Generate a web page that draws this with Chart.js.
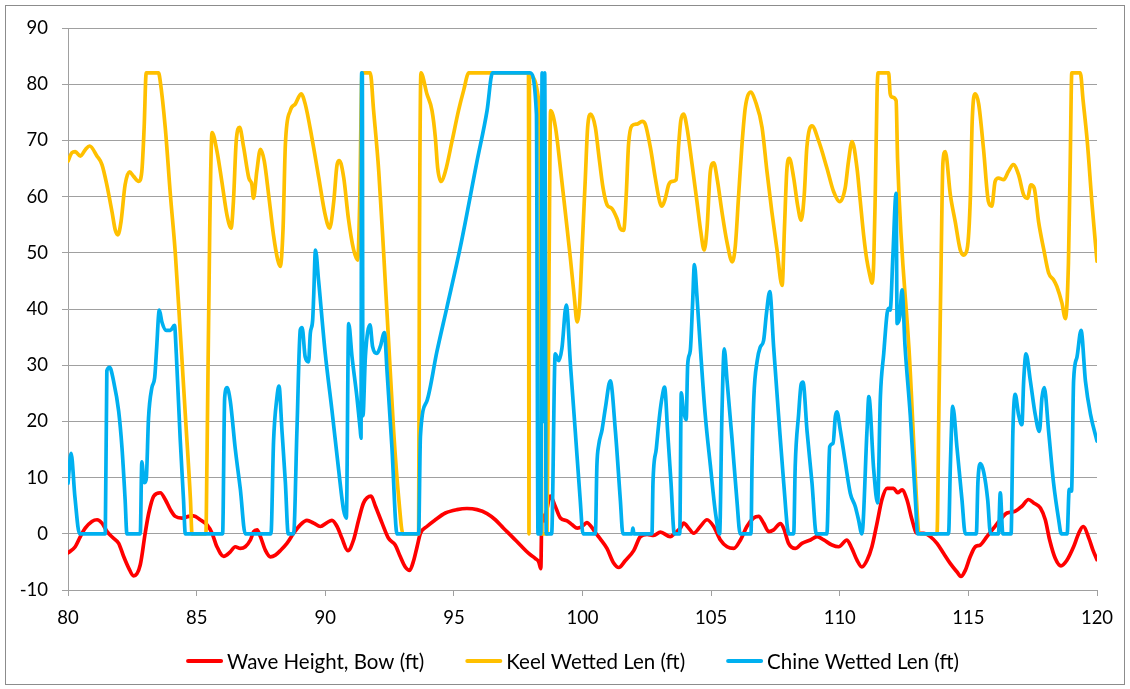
<!DOCTYPE html>
<html>
<head>
<meta charset="utf-8">
<script src="https://cdn.jsdelivr.net/npm/chart.js@4.4.1/dist/chart.umd.min.js"></script>
<style>
  html, body { margin: 0; padding: 0; background: #fff; }
  #wrap { position: relative; width: 1130px; height: 689px; }
  canvas { display: block; }
</style>
</head>
<body>
<div id="wrap"><canvas id="chart" width="1130" height="689"></canvas></div>
<script>
// Axis tick values
const xTicks = [80, 85, 90, 95, 100, 105, 110, 115, 120];
const yTicks = [-10, 0, 10, 20, 30, 40, 50, 60, 70, 80, 90];

// Wave height at the bow (ft) against time
const waveX = [80.00, 80.28, 80.48, 80.67, 80.93, 81.13, 81.32, 81.52, 81.77, 81.97, 82.16, 82.36, 82.55, 82.81, 83.00, 83.14, 83.33, 83.59, 83.78, 83.98, 84.17, 84.43, 84.69, 84.88, 85.14, 85.40, 85.60, 85.79, 86.05, 86.31, 86.50, 86.70, 86.89, 87.09, 87.22, 87.35, 87.48, 87.67, 87.87, 88.06, 88.25, 88.51, 88.77, 89.03, 89.29, 89.55, 89.81, 90.07, 90.26, 90.46, 90.65, 90.88, 91.10, 91.30, 91.49, 91.78, 91.95, 92.21, 92.46, 92.72, 92.92, 93.11, 93.28, 93.44, 93.57, 93.70, 93.95, 94.28, 94.67, 95.12, 95.51, 95.90, 96.29, 96.61, 96.93, 97.26, 97.58, 97.91, 98.17, 98.30, 98.38, 98.42, 98.52, 98.60, 98.75, 98.94, 99.14, 99.40, 99.60, 99.80, 99.98, 100.17, 100.35, 100.52, 100.69, 100.95, 101.21, 101.41, 101.66, 101.99, 102.25, 102.51, 102.77, 103.03, 103.41, 103.61, 103.80, 103.93, 104.13, 104.32, 104.58, 104.84, 105.10, 105.36, 105.62, 105.88, 106.14, 106.39, 106.65, 106.85, 107.04, 107.24, 107.43, 107.69, 107.82, 108.01, 108.27, 108.53, 108.86, 109.12, 109.38, 109.70, 109.96, 110.28, 110.47, 110.67, 110.86, 111.06, 111.25, 111.45, 111.64, 111.84, 112.09, 112.25, 112.42, 112.61, 112.81, 113.00, 113.26, 113.52, 113.78, 114.04, 114.30, 114.56, 114.71, 114.88, 115.07, 115.27, 115.46, 115.72, 115.98, 116.24, 116.50, 116.82, 117.08, 117.34, 117.54, 117.80, 117.99, 118.16, 118.38, 118.60, 118.83, 119.09, 119.29, 119.46, 119.70, 119.85, 120.00];
const waveY = [-3.4, -2.3, -0.5, 1.0, 2.2, 2.5, 1.9, 0.4, -0.8, -1.7, -4.0, -6.1, -7.5, -5.5, 0.1, 3.7, 6.7, 7.3, 6.1, 4.3, 3.1, 2.8, 3.1, 3.2, 2.5, 1.6, 0.1, -2.3, -4.0, -3.2, -2.3, -2.6, -2.3, -1.1, 0.4, 0.7, -0.5, -2.9, -4.1, -3.8, -3.0, -1.7, 0.1, 1.6, 2.4, 1.9, 1.3, 2.0, 2.4, 1.3, -0.8, -3.0, -1.1, 2.5, 5.5, 6.7, 4.9, 1.9, -0.8, -2.0, -4.1, -5.9, -6.5, -4.7, -2.3, 0.1, 1.3, 2.5, 3.7, 4.3, 4.5, 4.3, 3.6, 2.5, 1.0, -0.5, -2.0, -3.5, -4.4, -5.0, -6.2, 3.5, 2.3, 4.0, 6.7, 4.9, 2.8, 2.3, 1.6, 1.0, 1.3, 2.0, 1.2, 0.1, -0.9, -2.6, -5.2, -6.0, -4.8, -3.0, -0.5, -0.1, -0.3, 0.3, -0.5, 0.2, 1.0, 1.9, 1.0, 0.1, 1.3, 2.5, 1.3, -1.1, -2.3, -2.6, -1.1, 1.3, 2.8, 3.1, 1.9, 0.4, 0.7, 1.8, 1.0, -1.7, -2.6, -1.7, -1.1, -0.5, -1.1, -2.0, -2.3, -1.1, -2.6, -4.7, -5.9, -4.7, -2.3, 1.9, 6.1, 8.1, 8.1, 7.3, 7.8, 6.1, 2.5, 0.1, 0.1, -0.5, -1.7, -3.5, -5.3, -6.8, -7.6, -6.5, -4.1, -2.3, -2.0, -0.5, 1.0, 2.5, 3.7, 4.0, 4.9, 6.1, 5.5, 4.6, 2.5, -1.1, -4.4, -5.7, -4.7, -2.3, 0.1, 1.3, -1.0, -3.0, -4.6];

// Keel wetted length (ft)
const keelX = [80.00, 80.15, 80.28, 80.48, 80.68, 80.84, 81.13, 81.32, 81.51, 81.71, 81.84, 81.94, 82.06, 82.22, 82.39, 82.55, 82.75, 82.87, 82.96, 83.04, 83.52, 83.58, 83.78, 83.98, 84.17, 84.36, 84.56, 84.76, 84.82, 85.36, 85.40, 85.51, 85.60, 85.79, 85.98, 86.18, 86.34, 86.43, 86.54, 86.67, 86.83, 87.03, 87.15, 87.21, 87.34, 87.48, 87.63, 87.80, 87.99, 88.15, 88.25, 88.36, 88.45, 88.64, 88.84, 89.06, 89.22, 89.48, 89.75, 90.00, 90.17, 90.33, 90.46, 90.55, 90.72, 90.90, 91.10, 91.26, 91.34, 91.43, 91.75, 91.88, 92.08, 92.27, 92.46, 92.66, 92.86, 93.02, 93.63, 93.66, 93.72, 93.95, 94.15, 94.28, 94.37, 94.50, 94.67, 94.93, 95.18, 95.38, 95.58, 97.90, 97.92, 97.94, 98.34, 98.38, 98.42, 98.62, 98.70, 98.76, 98.95, 99.14, 99.33, 99.52, 99.68, 99.79, 99.89, 99.99, 100.11, 100.20, 100.32, 100.50, 100.63, 100.80, 100.96, 101.14, 101.34, 101.47, 101.60, 101.70, 101.79, 101.92, 102.12, 102.32, 102.44, 102.64, 102.83, 103.00, 103.09, 103.22, 103.35, 103.48, 103.64, 103.74, 103.82, 103.93, 104.06, 104.26, 104.45, 104.60, 104.73, 104.84, 104.97, 105.10, 105.25, 105.42, 105.62, 105.82, 105.94, 106.07, 106.20, 106.33, 106.55, 106.71, 106.98, 107.17, 107.36, 107.56, 107.76, 107.85, 107.94, 108.04, 108.21, 108.36, 108.50, 108.62, 108.72, 108.92, 109.18, 109.50, 109.76, 110.00, 110.21, 110.34, 110.48, 110.67, 110.80, 110.93, 111.05, 111.18, 111.25, 111.32, 111.38, 111.45, 111.49, 111.90, 111.96, 112.03, 112.19, 112.25, 112.69, 113.14, 113.78, 113.86, 113.94, 114.01, 114.10, 114.30, 114.49, 114.68, 114.81, 114.95, 115.08, 115.14, 115.21, 115.27, 115.40, 115.59, 115.78, 115.91, 116.04, 116.17, 116.37, 116.56, 116.75, 116.95, 117.15, 117.30, 117.43, 117.56, 117.73, 117.93, 118.12, 118.31, 118.44, 118.64, 118.77, 118.89, 118.96, 119.02, 119.35, 119.46, 119.62, 119.81, 120.00];
const keelY = [66.3, 67.8, 68.0, 67.2, 68.4, 69.0, 67.2, 65.7, 62.1, 57.3, 54.0, 53.2, 55.5, 62.1, 64.4, 63.6, 62.7, 64.5, 72.3, 82, 82, 80.7, 72.3, 60.3, 50.0, 36.2, 21.2, 6.1, 0, 0, 12.2, 54.3, 71.4, 68.1, 62.7, 56.7, 54.4, 59.1, 69.9, 72.3, 68.7, 63.3, 62.1, 59.7, 64.5, 68.4, 66.3, 60.3, 53.1, 48.8, 47.6, 54.3, 69.3, 75.3, 76.5, 78.3, 76.5, 70.5, 63.3, 56.7, 54.4, 59.1, 65.7, 66.4, 63.3, 56.1, 50.6, 48.7, 59.1, 82, 82, 75.3, 64.5, 50, 34.4, 18.2, 6.1, 0, 0, 48.2, 82, 78.3, 75.3, 70.5, 65.1, 62.7, 64.5, 69.9, 75.3, 78.9, 82, 82, 0, 81.5, 75.3, 45, 0, 0, 47, 75.3, 72.3, 65.1, 57.3, 49.4, 42.2, 37.7, 41.0, 51.2, 63.3, 72.3, 74.7, 72.3, 67.5, 61.5, 58.5, 57.9, 56.1, 54.3, 54.0, 60.3, 69.3, 72.6, 72.9, 73.4, 72.9, 68.7, 63.3, 59.1, 58.3, 59.7, 62.1, 62.7, 63.0, 69.3, 73.5, 74.7, 72.3, 65.7, 59.1, 53.7, 50.5, 54.3, 64.5, 66.0, 62.7, 57.3, 51.8, 48.4, 51.2, 60.3, 69.3, 75.9, 78.6, 77.1, 72.3, 64.5, 57.3, 50.6, 44.2, 54.3, 64.5, 66.8, 63.3, 58.5, 55.8, 60.3, 68.7, 72.6, 69.9, 65.1, 60.9, 59.1, 61.5, 66.3, 69.8, 65.1, 59.1, 53.1, 48.8, 45.8, 44.6, 48.2, 60.3, 78.3, 82, 82, 78.3, 77.7, 77.1, 66.3, 33, 0, 0, 24.2, 48.2, 66, 68.0, 60.3, 55.5, 50.6, 49.6, 50.6, 60.3, 72.3, 77.7, 78.3, 76.5, 68.4, 59.1, 58.3, 62.7, 63.3, 63.0, 64.5, 65.7, 63.9, 60.3, 59.7, 62.1, 61.5, 55.5, 50.6, 46.4, 45.2, 44.0, 41.0, 38.3, 48.2, 66.3, 82, 82, 77.1, 69.9, 58.5, 48.5];

// Chine wetted length (ft)
const chineX = [80.00, 80.12, 80.27, 80.45, 81.45, 81.51, 81.62, 81.77, 81.97, 82.10, 82.22, 82.29, 82.81, 82.87, 82.96, 83.04, 83.13, 83.26, 83.37, 83.44, 83.55, 83.65, 83.82, 83.98, 84.14, 84.21, 84.36, 84.49, 84.56, 86.01, 86.09, 86.18, 86.31, 86.50, 86.70, 86.89, 87.89, 87.99, 88.12, 88.20, 88.32, 88.45, 88.56, 88.77, 88.90, 89.03, 89.10, 89.22, 89.35, 89.42, 89.51, 89.55, 89.62, 89.74, 90.00, 90.26, 90.52, 90.71, 90.82, 90.91, 91.04, 91.23, 91.36, 91.39, 91.415, 91.44, 91.465, 91.56, 91.74, 91.84, 92.01, 92.14, 92.30, 92.40, 92.59, 92.79, 93.63, 93.70, 93.95, 94.34, 94.73, 95.25, 95.90, 96.29, 96.50, 97.96, 98.21, 98.27, 98.38, 98.43, 98.48, 98.53, 98.59, 98.80, 98.94, 99.08, 99.20, 99.37, 99.53, 99.72, 99.91, 100.02, 100.50, 100.56, 100.63, 100.76, 100.89, 101.08, 101.28, 101.47, 101.57, 101.92, 101.96, 102.00, 102.70, 102.74, 102.87, 103.00, 103.09, 103.19, 103.31, 103.44, 103.57, 103.78, 103.84, 103.92, 104.03, 104.09, 104.19, 104.28, 104.35, 104.45, 104.58, 104.77, 104.97, 105.17, 105.33, 105.42, 105.51, 105.62, 105.81, 106.00, 106.13, 106.55, 106.59, 106.66, 106.79, 106.91, 107.04, 107.15, 107.28, 107.43, 107.62, 107.82, 108.02, 108.21, 108.27, 108.40, 108.50, 108.57, 108.73, 108.92, 109.09, 109.50, 109.61, 109.74, 109.83, 109.89, 110.02, 110.22, 110.41, 110.60, 110.73, 110.86, 111.06, 111.13, 111.32, 111.47, 111.58, 111.71, 111.84, 111.90, 111.96, 112.07, 112.19, 112.23, 112.33, 112.42, 112.54, 112.74, 112.94, 113.03, 114.23, 114.30, 114.39, 114.56, 114.75, 114.88, 115.31, 115.37, 115.47, 115.60, 115.75, 115.86, 116.17, 116.24, 116.34, 116.66, 116.73, 116.82, 116.95, 117.08, 117.15, 117.24, 117.41, 117.60, 117.76, 117.86, 117.95, 118.12, 118.31, 118.51, 118.61, 118.84, 118.92, 119.01, 119.09, 119.22, 119.38, 119.55, 119.75, 120.00];
const chineY = [9, 14.3, 6.5, 0, 0, 29.0, 29.6, 27.2, 21.8, 15.2, 6.1, 0, 0, 12.8, 9.1, 9.7, 20.6, 26.0, 27.8, 32.6, 39.8, 37.7, 36.2, 36.2, 37.1, 32.0, 17.0, 6.1, 0, 0, 24.2, 26.0, 23.6, 15.2, 7.9, 0, 0, 16.4, 24.2, 26.3, 18.2, 9.1, 0, 0, 18.5, 36.3, 36.7, 31.5, 30.6, 35.7, 38.0, 42.2, 50.5, 45.1, 32.1, 22.0, 11.4, 4.3, 2.8, 37.4, 31.5, 24.4, 18.5, 17.0, 82, 82, 21, 31.5, 37.2, 33.3, 32.1, 33.3, 35.8, 29.1, 15.5, 0, 0, 17.4, 23.6, 32.4, 40.3, 51.0, 66.3, 75.3, 82, 82, 74.7, 0, 0, 82, 20, 82, 0, 0, 32.0, 30.8, 33, 40.7, 30.2, 18.2, 6.1, 0, 0, 12.2, 15.8, 18.5, 22.4, 27.2, 18.2, 6.1, 0, 0, 1.0, 0, 0, 9.1, 15.2, 21.2, 24.2, 26.1, 18.2, 9.1, 0, 0, 25.1, 22, 20.3, 30.2, 32.6, 41.0, 47.9, 42.2, 33.2, 21.2, 12.2, 3.7, 0, 21.2, 32.9, 27.2, 17.0, 6.1, 0, 0, 12.2, 24.2, 30.8, 33.2, 34.4, 39.2, 43.1, 33.2, 21.2, 9.1, 0, 0, 12.2, 21.2, 26.6, 27.0, 18.2, 9.1, 0, 0, 15.5, 16.1, 20.9, 21.7, 18.5, 12.6, 7.2, 4.9, 2.5, 0, 18.5, 24.4, 11.4, 5.5, 24.4, 32.1, 39.2, 40.1, 39.8, 49.9, 60.6, 37.4, 38.6, 43.4, 33.2, 21.2, 6.1, 0, 0, 12.2, 22.7, 15.2, 6.1, 0, 0, 9.1, 12.5, 10.9, 6.1, 0, 0, 7.3, 0, 0, 18.2, 24.8, 21.2, 19.4, 27.2, 32.0, 27.2, 21.2, 18.2, 24.2, 26.0, 18.2, 9.1, 2.5, 0, 0, 7.9, 7.6, 27.2, 31.4, 36.2, 27.2, 21.2, 16.5];

const seriesNames = ['Wave Height, Bow (ft)', 'Keel Wetted Len (ft)', 'Chine Wetted Len (ft)'];
const seriesColors = ['#ff0000', '#ffc000', '#00b0f0'];

const toPoints = (xs, ys) => xs.map((x, i) => ({ x: x, y: ys[i] }));

const FONT = 'Lato, "Open Sans", sans-serif';
const GRID = '#a0a0a0';

// White background and thin outer frame of the chart area
const framePlugin = {
  id: 'frame',
  beforeDraw(chart) {
    const ctx = chart.ctx;
    ctx.save();
    ctx.fillStyle = '#ffffff';
    ctx.fillRect(0, 0, chart.width, chart.height);
    ctx.strokeStyle = '#8c8c8c';
    ctx.lineWidth = 1;
    ctx.strokeRect(5.5, 5.5, chart.width - 11, chart.height - 10);
    ctx.restore();
  }
};

// Single-row legend under the axis with line swatches
const legendRowPlugin = {
  id: 'legendRow',
  afterDraw(chart) {
    const ctx = chart.ctx;
    const sets = chart.data.datasets;
    const swatch = 37, textGap = 4, itemGap = 41, y = 661;
    ctx.save();
    ctx.font = '20.5px ' + FONT;
    ctx.textBaseline = 'middle';
    ctx.textAlign = 'left';
    const widths = sets.map(d => swatch + textGap + ctx.measureText(d.label).width);
    const total = widths.reduce((a, b) => a + b, 0) + itemGap * (sets.length - 1);
    let x = 572.5 - total / 2;
    sets.forEach((d, i) => {
      ctx.strokeStyle = d.borderColor;
      ctx.lineWidth = 4;
      ctx.lineCap = 'round';
      ctx.beginPath();
      ctx.moveTo(x + 2, y);
      ctx.lineTo(x + swatch - 2, y);
      ctx.stroke();
      ctx.fillStyle = '#000000';
      ctx.fillText(d.label, x + swatch + textGap, y + 1);
      x += widths[i] + itemGap;
    });
    ctx.restore();
  }
};

const lineSet = (i, xs, ys, order) => ({
  label: seriesNames[i],
  data: toPoints(xs, ys),
  borderColor: seriesColors[i],
  backgroundColor: seriesColors[i],
  borderWidth: 3.7,
  pointRadius: 0,
  pointHoverRadius: 0,
  fill: false,
  cubicInterpolationMode: 'monotone',
  borderJoinStyle: 'round',
  borderCapStyle: 'round',
  order: order
});

new Chart(document.getElementById('chart'), {
  type: 'line',
  data: {
    datasets: [
      lineSet(0, waveX, waveY, 2),
      lineSet(1, keelX, keelY, 1),
      lineSet(2, chineX, chineY, 0)
    ]
  },
  options: {
    responsive: false,
    animation: false,
    devicePixelRatio: 1,
    layout: { padding: { left: 0, top: 28, right: 33, bottom: 59 } },
    plugins: {
      legend: { display: false },
      tooltip: { enabled: false },
      title: { display: false }
    },
    scales: {
      x: {
        type: 'linear',
        min: 80,
        max: 120,
        afterBuildTicks: s => { s.ticks = xTicks.map(v => ({ value: v })); },
        afterFit: s => { s.height = 40; },
        grid: { drawOnChartArea: false, drawTicks: true, tickLength: 6, color: GRID, lineWidth: 1 },
        border: { color: GRID, width: 1 },
        ticks: { color: '#000', font: { family: FONT, size: 18.5 }, padding: 11, maxRotation: 0, autoSkip: false }
      },
      y: {
        type: 'linear',
        min: -10,
        max: 90,
        afterBuildTicks: s => { s.ticks = yTicks.map(v => ({ value: v })); },
        afterFit: s => { s.width = 68; },
        grid: { color: GRID, lineWidth: 1, tickLength: 6 },
        border: { color: GRID, width: 1 },
        ticks: { color: '#000', font: { family: FONT, size: 18.5 }, padding: 14 }
      }
    }
  },
  plugins: [framePlugin, legendRowPlugin]
});
</script>
</body>
</html>
